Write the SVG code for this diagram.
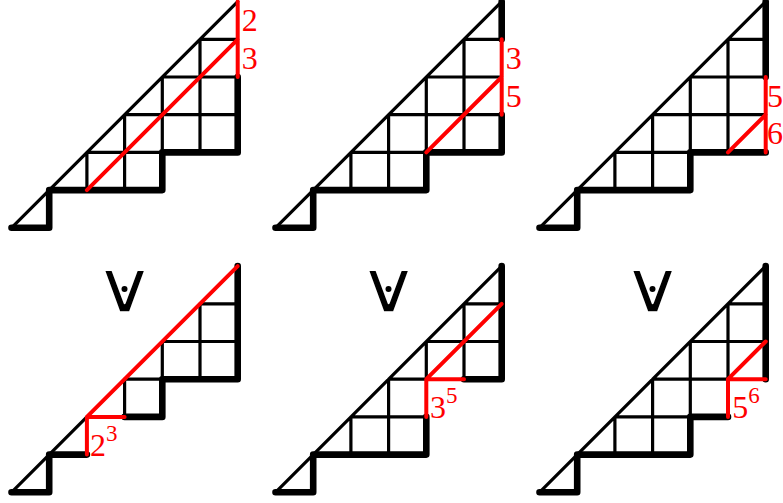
<svg xmlns="http://www.w3.org/2000/svg" width="783" height="503" viewBox="0 0 783 503">
<style>
.thin{fill:none;stroke:#000;stroke-width:3.2;stroke-linecap:round;stroke-linejoin:round}
.thick{fill:none;stroke:#000;stroke-width:6.6;stroke-linecap:round;stroke-linejoin:round}
.red{fill:none;stroke:#f00;stroke-width:4;stroke-linecap:round;stroke-linejoin:round}
.lbl{font-family:"Liberation Serif","DejaVu Serif",serif;font-size:32px;fill:#f00}
.sup{font-size:23px}
.vee{font-family:"DejaVu Sans",sans-serif;font-size:72px;fill:#000;stroke:#fff;stroke-width:1.6;stroke-linejoin:round;text-anchor:middle}
</style>
<rect width="783" height="503" fill="#fff"/>
<g id="panel-top-1" transform="translate(11.5,227.8)">
<path class="thin" d="M0 0L226.2 -226.2M75.4 -75.4V-37.7M113.1 -113.1V-37.7M150.8 -150.8V-37.7M188.5 -188.5V-75.4M75.4 -75.4H150.8M113.1 -113.1H226.2M150.8 -150.8H226.2M188.5 -188.5H226.2"/>
<path class="thick" d="M0 0H37.7V-37.7H150.8V-75.4H226.2V-150.8"/>
<path class="red" d="M226.2 -226.2V-150.8M75.4 -37.7L226.2 -188.5"/>
<text class="lbl" x="230.2" y="-196.5">2</text>
<text class="lbl" x="230.2" y="-158.8">3</text>
</g>
<g id="panel-top-2" transform="translate(275.5,227.8)">
<path class="thin" d="M0 0L226.2 -226.2M75.4 -75.4V-37.7M113.1 -113.1V-37.7M150.8 -150.8V-37.7M188.5 -188.5V-75.4M75.4 -75.4H150.8M113.1 -113.1H226.2M150.8 -150.8H226.2M188.5 -188.5H226.2"/>
<path class="thick" d="M0 0H37.7V-37.7H150.8V-75.4H226.2V-113.1M226.2 -188.5V-226.2"/>
<path class="red" d="M226.2 -188.5V-113.1M150.8 -75.4L226.2 -150.8"/>
<text class="lbl" x="230.2" y="-158.8">3</text>
<text class="lbl" x="230.2" y="-121.1">5</text>
</g>
<g id="panel-top-3" transform="translate(539.5,227.8)">
<path class="thin" d="M0 0L226.2 -226.2M75.4 -75.4V-37.7M113.1 -113.1V-37.7M150.8 -150.8V-37.7M188.5 -188.5V-75.4M75.4 -75.4H150.8M113.1 -113.1H226.2M150.8 -150.8H226.2M188.5 -188.5H226.2"/>
<path class="thick" d="M0 0H37.7V-37.7H150.8V-75.4H226.2M226.2 -150.8V-226.2"/>
<path class="red" d="M226.2 -150.8V-75.4M188.5 -75.4L226.2 -113.1"/>
<text class="lbl" x="227.4" y="-121.1">5</text>
<text class="lbl" x="227.4" y="-83.4">6</text>
</g>
<g id="panel-bottom-1" transform="translate(11.5,492.3)">
<text class="vee" transform="translate(113.1,-180.8) scale(1.2,1)">∨</text>
<circle cx="113" cy="-203.3" r="3"/>
<path class="thin" d="M0 0L75.4 -75.4M113.1 -113.1V-75.4M150.8 -150.8V-113.1M188.5 -188.5V-113.1M113.1 -113.1H150.8M150.8 -150.8H226.2M188.5 -188.5H226.2"/>
<path class="thick" d="M0 0H37.7V-37.7H75.4M113.1 -75.4H150.8V-113.1H226.2V-226.2"/>
<path class="red" d="M75.4 -37.7V-75.4H113.1M75.4 -75.4L226.2 -226.2"/>
<text class="lbl" x="78.6" y="-36.3">2</text>
<text class="lbl sup" x="94.6" y="-51.5">3</text>
</g>
<g id="panel-bottom-2" transform="translate(275.5,492.3)">
<text class="vee" transform="translate(113.1,-180.8) scale(1.2,1)">∨</text>
<circle cx="113" cy="-203.3" r="3"/>
<path class="thin" d="M0 0L226.2 -226.2M75.4 -75.4V-37.7M113.1 -113.1V-37.7M150.8 -150.8V-113.1M188.5 -188.5V-113.1M75.4 -75.4H150.8M113.1 -113.1H150.8M150.8 -150.8H226.2M188.5 -188.5H226.2"/>
<path class="thick" d="M0 0H37.7V-37.7H150.8V-75.4M188.5 -113.1H226.2V-226.2"/>
<path class="red" d="M150.8 -75.4V-113.1H188.5M150.8 -113.1L226.2 -188.5"/>
<text class="lbl" x="154.5" y="-73.9">3</text>
<text class="lbl sup" x="170.5" y="-89.1">5</text>
</g>
<g id="panel-bottom-3" transform="translate(539.5,492.3)">
<text class="vee" transform="translate(113.1,-180.8) scale(1.2,1)">∨</text>
<circle cx="113" cy="-203.3" r="3"/>
<path class="thin" d="M0 0L226.2 -226.2M75.4 -75.4V-37.7M113.1 -113.1V-37.7M150.8 -150.8V-75.4M188.5 -188.5V-113.1M75.4 -75.4H150.8M113.1 -113.1H188.5M150.8 -150.8H226.2M188.5 -188.5H226.2"/>
<path class="thick" d="M0 0H37.7V-37.7H150.8V-75.4H188.5M226.2 -113.1V-226.2"/>
<path class="red" d="M188.5 -75.4V-113.1H226.2M188.5 -113.1L226.2 -150.8"/>
<text class="lbl" x="192.7" y="-73.9">5</text>
<text class="lbl sup" x="208.7" y="-89.1">6</text>
</g>
</svg>
